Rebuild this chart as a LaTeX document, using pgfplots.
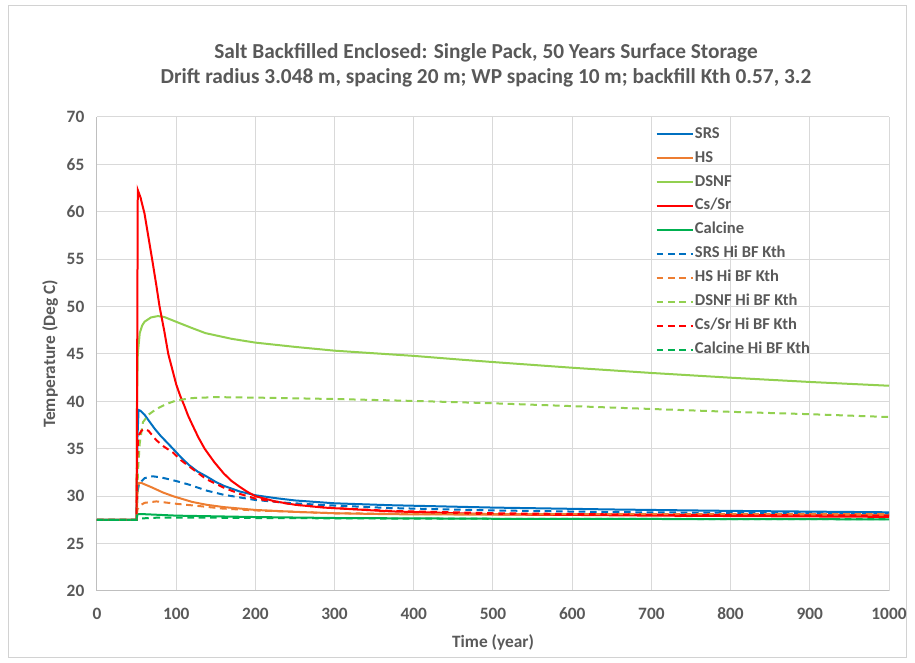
\documentclass[border=0pt]{standalone}
\usepackage{fontspec}
\setmainfont{Carlito}
\usepackage{pgfplots}
\pgfplotsset{compat=1.18}
\definecolor{txt}{HTML}{595959}
\definecolor{gridc}{HTML}{D9D9D9}
\definecolor{axc}{HTML}{BFBFBF}
\definecolor{srs}{HTML}{0070C0}
\definecolor{hs}{HTML}{ED7D31}
\definecolor{dsnf}{HTML}{92D050}
\definecolor{cssr}{HTML}{FF0000}
\definecolor{calc}{HTML}{00B050}
\begin{document}
\begin{tikzpicture}
\useasboundingbox (-72.75pt,-54pt) rectangle (613.5pt,443.25pt);
\draw[axc!70, line width=0.6pt] (-66.75pt,-49.5pt) rectangle (606.75pt,439.5pt);
\begin{axis}[
  at={(0pt,0pt)}, anchor=south west,
  scale only axis, width=594pt, height=355.5pt,
  xmin=0, xmax=1000, ymin=20, ymax=70,
  xtick={0,100,...,1000}, ytick={20,25,...,70},
  grid=major, major grid style={gridc, line width=0.75pt},
  axis x line*=bottom, axis y line*=left,
  x axis line style={-, axc, line width=0.75pt},
  y axis line style={-, axc, line width=0.75pt},
  major tick length=0pt,
  /pgf/number format/assume math mode=true,
  /pgf/number format/1000 sep={},
  tick label style={font=\bfseries\fontsize{13}{15}\selectfont, text=txt},
  xticklabel shift={9pt}, yticklabel shift={6pt},
  xlabel={Time (year)}, ylabel={Temperature (Deg C)},
  label style={font=\bfseries\fontsize{13}{15}\selectfont, text=txt},
  xlabel style={at={(axis description cs:0.5,0)}, anchor=center, yshift=-38.5pt},
  ylabel style={at={(axis description cs:-0.059,0.5)}, anchor=center},
  legend cell align=left,
  legend style={at={(0.700,0.99)}, anchor=north west, draw=none, fill=none,
    font=\bfseries\fontsize{12.4}{14}\selectfont, text=txt,
    nodes={inner sep=1pt, text height=9pt, text depth=3pt}, row sep=4pt},
  legend image code/.code={\draw[#1] (0pt,0pt) -- (27pt,0pt);},
  every axis plot/.append style={line width=1.5pt},
]
\addplot[srs] coordinates {(0,27.5)(50,27.5)(51,36)(52.5,39.1)(55,39.0)(60,38.6)(66,37.9)(73,37.1)(80,36.4)(88,35.7)(96,35.0)(106,34.1)(116,33.3)(127,32.6)(138,32.1)(150,31.5)(160,31.1)(180,30.5)(200,30.1)(225,29.8)(250,29.55)(300,29.25)(370,29.05)(500,28.8)(650,28.6)(800,28.45)(1000,28.3)};
\addlegendentry{SRS}
\addplot[hs] coordinates {(0,27.5)(50,27.5)(51,30.2)(53,31.4)(56,31.4)(70,30.9)(83,30.4)(96,30.0)(120,29.4)(138,29.1)(160,28.85)(200,28.55)(250,28.35)(300,28.2)(370,28.1)(500,28.05)(700,28.02)(1000,28.0)};
\addlegendentry{HS}
\addplot[dsnf] coordinates {(0,27.5)(50,27.5)(50.5,40)(51.5,45)(54,47.2)(57,48.0)(60,48.4)(68,48.85)(77,49.0)(85,48.9)(100,48.4)(118,47.8)(137,47.2)(170,46.6)(200,46.2)(250,45.75)(300,45.35)(400,44.8)(460,44.4)(500,44.15)(600,43.55)(700,43.0)(800,42.5)(900,42.05)(1000,41.65)};
\addlegendentry{DSNF}
\addplot[cssr] coordinates {(0,27.5)(50,27.5)(51.5,62.3)(55,61.5)(60,59.8)(65,57.3)(70,54.8)(75,52.2)(79,50)(85,47.4)(90,45)(95,43.4)(100,41.8)(105,40.6)(110,39.6)(115,38.5)(120,37.6)(128,36.2)(136,35)(148,33.6)(160,32.4)(170,31.6)(180,31)(190,30.45)(200,30.0)(225,29.45)(250,29.1)(286,28.8)(370,28.4)(500,28.1)(700,27.95)(1000,27.82)};
\addlegendentry{Cs/Sr}
\addplot[calc] coordinates {(0,27.5)(50,27.5)(51,28.1)(60,28.1)(100,27.95)(200,27.8)(300,27.7)(500,27.62)(1000,27.56)};
\addlegendentry{Calcine}
\addplot[srs, dash pattern=on 5pt off 3.5pt] coordinates {(0,27.5)(50,27.5)(51,30.5)(53,31.3)(60,31.9)(70,32.1)(80,32.0)(100,31.6)(117,31.2)(138,30.6)(160,30.15)(200,29.6)(240,29.3)(285,29.07)(370,28.75)(500,28.5)(650,28.32)(800,28.25)(1000,28.2)};
\addlegendentry{SRS Hi BF Kth}
\addplot[hs, dash pattern=on 5pt off 3.5pt] coordinates {(0,27.5)(50,27.5)(51,28.6)(54,29.0)(60,29.3)(75,29.45)(100,29.2)(130,28.95)(158,28.7)(200,28.5)(300,28.2)(400,28.12)(600,28.1)(1000,28.1)};
\addlegendentry{HS Hi BF Kth}
\addplot[dsnf, dash pattern=on 5pt off 3.5pt] coordinates {(0,27.5)(50,27.5)(51,31)(52,33)(54,35.6)(58,37.8)(65,38.6)(75,39.2)(87,39.7)(100,40.1)(120,40.35)(150,40.45)(200,40.4)(300,40.25)(400,40.05)(500,39.8)(600,39.5)(700,39.2)(800,38.9)(900,38.65)(1000,38.35)};
\addlegendentry{DSNF Hi BF Kth}
\addplot[cssr, dash pattern=on 5pt off 3.5pt] coordinates {(0,27.5)(50,27.5)(50.5,33)(52,36.3)(56,36.9)(60,37.1)(65,36.9)(75,35.9)(85,35.2)(96,34.6)(106,33.8)(117,33.1)(138,31.8)(160,30.9)(180,30.25)(200,29.75)(250,29.1)(300,28.75)(370,28.45)(500,28.2)(700,28.05)(1000,27.95)};
\addlegendentry{Cs/Sr Hi BF Kth}
\addplot[calc, dash pattern=on 5pt off 3.5pt] coordinates {(0,27.5)(50,27.5)(55,27.65)(80,27.75)(120,27.75)(200,27.7)(400,27.63)(1000,27.57)};
\addlegendentry{Calcine Hi BF Kth}
\end{axis}
\node[font=\bfseries\fontsize{16}{18}\selectfont, text=txt] at (291.75pt,403.5pt) {Salt Backfilled Enclosed: Single Pack, 50 Years Surface Storage};
\node[font=\bfseries\fontsize{16}{18}\selectfont, text=txt] at (291.75pt,384.75pt) {Drift radius 3.048 m, spacing 20 m; WP spacing 10 m; backfill Kth 0.57, 3.2};
\end{tikzpicture}
\end{document}
